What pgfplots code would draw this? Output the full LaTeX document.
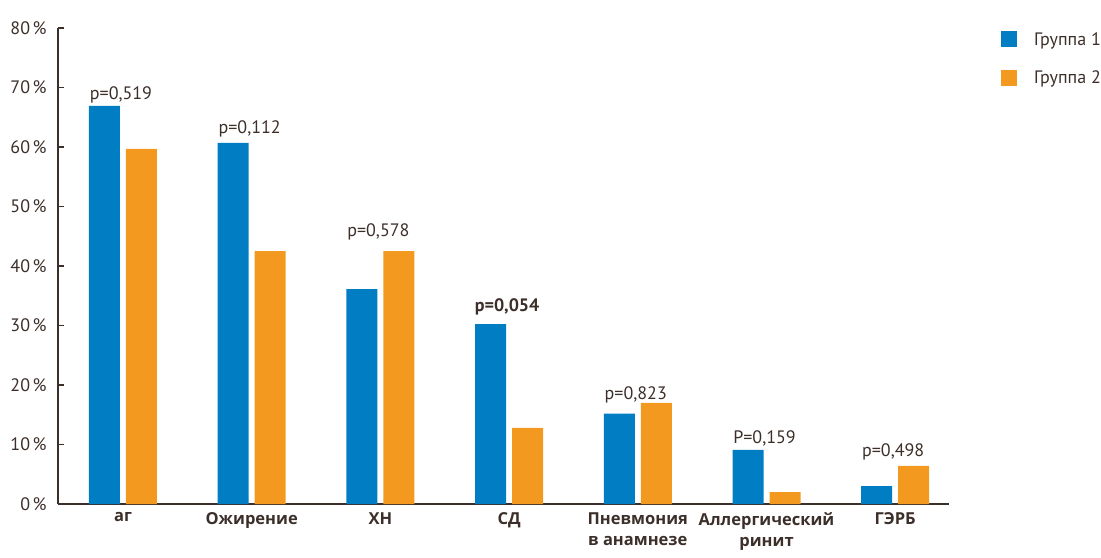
\documentclass[border=0pt]{standalone}
\usepackage{fontspec}
\setmainfont{PT Sans}
\newfontfamily\catfont{Open Sans}
\usepackage{pgfplots}
\pgfplotsset{compat=1.18}
\definecolor{gOne}{RGB}{0,125,195}
\definecolor{gTwo}{RGB}{243,153,31}
\definecolor{txt}{RGB}{60,47,42}
\newcommand{\pc}[1]{#1\kern2.5bp\%}
\begin{document}
\begin{tikzpicture}[font=\fontsize{18bp}{21.5bp}\selectfont]
\path[use as bounding box] (0,0) rectangle (1101bp,558bp);
\begin{axis}[
  at={(58bp,54bp)}, anchor=south west,
  scale only axis, width=891bp, height=476bp,
  xmin=-0.505, xmax=6.418, ymin=0, ymax=80,
  ybar=6bp, bar width=31bp,
  axis x line*=bottom, axis y line*=left,
  axis line style={txt, line width=1.2bp},
  xtick={0,...,6},
  xticklabels={аг, Ожирение, ХН, СД, {Пневмония\\в анамнезе}, {Аллергический\\ринит}, ГЭРБ},
  x tick label style={font=\catfont\fontsize{16.5bp}{21.5bp}\selectfont\bfseries, align=center, text=txt, anchor=north, yshift=-5bp},
  major x tick style={draw=none},
  ytick={0,10,...,80},
  yticklabels={\pc{0}, \pc{10}, \pc{20}, \pc{30}, \pc{40}, \pc{50}, \pc{60}, \pc{70}, \pc{80}},
  y tick label style={text=txt, anchor=east, xshift=-8bp},
  major y tick style={txt, line width=1.2bp},
  major tick length=6bp, tick align=inside,
  legend style={at={(rel axis cs:1,1)}, anchor=north west, xshift=52bp, yshift=-2bp,
    draw=none, fill=none, inner sep=0pt, row sep=20bp, text=txt,
    /tikz/every odd column/.style={column sep=15bp}},
  legend cell align=left,
  legend image code/.code={\fill[#1] (0bp,-8bp) rectangle (16bp,8bp);},
  clip=false,
]
\addplot[fill=gOne, draw=none] coordinates {(0,66.9) (1,60.7) (2,36.1) (3,30.25) (4,15.2) (5,9.1) (6,3.0)};
\addplot[fill=gTwo, draw=none] coordinates {(0,59.7) (1,42.5) (2,42.5) (3,12.8) (4,17.0) (5,2.0) (6,6.4)};
\legend{Группа 1, Группа 2}
\begin{scope}[every node/.style={anchor=base, text=txt, inner sep=0pt, xshift=-2bp}]
\node at (axis cs:0,67.9) {p=0,519};
\node at (axis cs:1,62.3) {p=0,112};
\node at (axis cs:2,45.0) {p=0,578};
\node at (axis cs:3,32.4) {\bfseries p=0,054};
\node at (axis cs:4,17.5) {p=0,823};
\node at (axis cs:5,10.1) {P=0,159};
\node at (axis cs:6,7.9) {p=0,498};
\end{scope}
\end{axis}
\end{tikzpicture}
\end{document}
